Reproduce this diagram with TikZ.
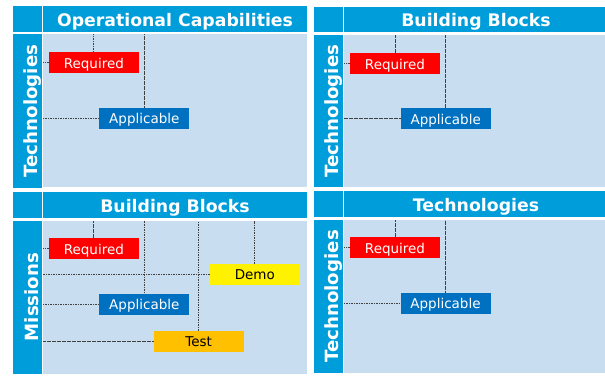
\documentclass[tikz,border=0pt]{standalone}
\usepackage{fontspec}
\setmainfont{DejaVu Sans}
\definecolor{hdr}{RGB}{0,157,219}
\definecolor{cnt}{RGB}{201,221,241}
\definecolor{appl}{RGB}{0,112,192}
\definecolor{tst}{RGB}{255,192,0}
\definecolor{dln}{RGB}{64,64,64}
\tikzset{
  hbar/.style={fill=hdr,draw=none},
  cbox/.style={fill=cnt,draw=none},
  htext/.style={text=white,font=\fontsize{17.3}{20}\selectfont\bfseries,inner sep=0pt,anchor=base},
  stext/.style={text=white,font=\fontsize{18.2}{21}\selectfont\bfseries,inner sep=0pt,rotate=90,anchor=base},
  tag/.style={minimum width=90pt,minimum height=21pt,inner sep=0pt,text height=12pt,text depth=1.2pt,font=\fontsize{13.5}{15}\selectfont},
  reqbox/.style={tag,fill=red,text=white},
  appbox/.style={tag,fill=appl,text=white},
  demobox/.style={tag,fill=yellow,text=black},
  testbox/.style={tag,fill=tst,text=black},
  dl/.style={draw=dln,line width=0.8pt,dash pattern=on 1.6pt off 0.9pt}
}
\begin{document}
\begin{tikzpicture}[x=1pt,y=-1pt]
\useasboundingbox[fill=white] (0,0) rectangle (605,375);
% ---- Panel 1
\fill[hbar] (12.7,6) rectangle (41.7,31.7);
\fill[hbar] (42.7,6) rectangle (307.3,31.7);
\fill[hbar] (12.7,34.3) rectangle (41.7,188);
\fill[cbox] (42.7,34.3) rectangle (307.3,187);
\node[htext] (h1) at (175,26.6) {Operational Capabilities};
\node[stext] (s1) at (37.2,111) {Technologies};
\coordinate (c1) at (42.7,34.3);
\node[reqbox] (r1) at (93.85,62.8) {Required};
\node[appbox] (a1) at (144.3,118.2) {Applicable};
% ---- Panel 2
\fill[hbar] (314,6.7) rectangle (342.7,32.3);
\fill[hbar] (344,6.7) rectangle (605,32.3);
\fill[hbar] (314,35) rectangle (342.7,187.3);
\fill[cbox] (344,35) rectangle (605,187.3);
\node[htext] (h2) at (476,26.9) {Building Blocks};
\node[stext] (s2) at (338.3,111) {Technologies};
\coordinate (c2) at (344,35);
\node[reqbox] (r2) at (395,63.7) {Required};
\node[appbox] (a2) at (445.7,118.7) {Applicable};
% ---- Panel 3
\fill[hbar] (12.7,192) rectangle (41.7,217.5);
\fill[hbar] (42.7,192) rectangle (307.3,217.5);
\fill[hbar] (12.7,220.7) rectangle (41.7,373.5);
\fill[cbox] (42.7,220.7) rectangle (307.3,373.5);
\node[htext] (h3) at (175,212) {Building Blocks};
\node[stext] (s3) at (38.5,297) {Missions};
\coordinate (c3) at (42.7,220.7);
\node[reqbox] (r3) at (93.85,248.7) {Required};
\node[demobox] (d3) at (254.85,274.5) {Demo};
\node[appbox] (a3) at (144.3,304) {Applicable};
\node[testbox] (t3) at (198.7,341.35) {Test};
% ---- Panel 4
\fill[hbar] (314,191) rectangle (342.7,216.7);
\fill[hbar] (344,191) rectangle (605,216.7);
\fill[hbar] (314,220) rectangle (342.7,373);
\fill[cbox] (344,220) rectangle (605,373);
\node[htext] (h4) at (476,211) {Technologies};
\node[stext] (s4) at (338.3,296.5) {Technologies};
\coordinate (c4) at (344,220);
\node[reqbox] (r4) at (395,247.7) {Required};
\node[appbox] (a4) at (445.5,303.2) {Applicable};
% ---- connectors
\foreach \b/\c in {r1/c1,a1/c1,r2/c2,a2/c2,r3/c3,d3/c3,a3/c3,t3/c3,r4/c4,a4/c4}{
  \draw[dl] (\b.north) -- (\b.north |- \c);
  \draw[dl] (\b.west) -- (\b.west -| \c);
}
\end{tikzpicture}
\end{document}
